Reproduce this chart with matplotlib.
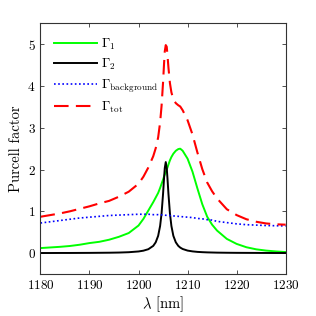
import matplotlib
matplotlib.use("Agg")
import matplotlib.pyplot as plt

plt.rcParams["font.family"] = "serif"
plt.rcParams["font.serif"] = ["cmr10", "DejaVu Serif"]
plt.rcParams["mathtext.fontset"] = "cm"
plt.rcParams["axes.formatter.use_mathtext"] = True

# wavelength grid [nm] (denser near the resonances)
wl = [1180, 1182, 1184, 1186, 1188, 1190, 1192, 1194, 1196, 1198,
      1200, 1201, 1202, 1203, 1203.5, 1204, 1204.4, 1204.7, 1205, 1205.2,
      1205.35, 1205.55, 1205.75, 1205.9, 1206.1, 1206.4, 1206.7, 1207.1, 1207.6, 1208.1,
      1208.5, 1209, 1210, 1211, 1212, 1213, 1214, 1215, 1216, 1218,
      1220, 1222, 1224, 1226, 1228, 1230]

gamma_1 = [0.12, 0.135, 0.15, 0.17, 0.20, 0.24, 0.27, 0.32, 0.39, 0.48,
           0.66, 0.82, 1.02, 1.22, 1.33, 1.44, 1.56, 1.66, 1.76, 1.83,
           1.88, 1.94, 2.00, 2.05, 2.12, 2.22, 2.30, 2.38, 2.45, 2.49,
           2.50, 2.45, 2.26, 1.95, 1.55, 1.17, 0.87, 0.68, 0.54, 0.34,
           0.22, 0.14, 0.09, 0.06, 0.04, 0.025]

gamma_2 = [0.002, 0.002, 0.003, 0.003, 0.004, 0.005, 0.007, 0.009, 0.013, 0.021,
           0.039, 0.058, 0.093, 0.173, 0.258, 0.413, 0.650, 0.954, 1.418, 1.790,
           2.035, 2.18, 2.035, 1.790, 1.418, 0.954, 0.650, 0.413, 0.258, 0.173,
           0.132, 0.098, 0.060, 0.041, 0.029, 0.022, 0.017, 0.014, 0.011, 0.008,
           0.006, 0.005, 0.004, 0.003, 0.002, 0.002]

gamma_bg = [0.72, 0.75, 0.78, 0.81, 0.84, 0.86, 0.88, 0.90, 0.91, 0.92,
            0.93, 0.93, 0.93, 0.92, 0.92, 0.92, 0.915, 0.915, 0.91, 0.91,
            0.91, 0.905, 0.905, 0.90, 0.90, 0.90, 0.895, 0.89, 0.885, 0.88,
            0.875, 0.87, 0.86, 0.85, 0.83, 0.82, 0.80, 0.79, 0.76, 0.73,
            0.70, 0.68, 0.67, 0.66, 0.655, 0.65]

gamma_tot = [0.87, 0.91, 0.95, 1.00, 1.06, 1.12, 1.19, 1.25, 1.35, 1.47,
             1.66, 1.83, 2.05, 2.32, 2.51, 2.77, 3.13, 3.53, 4.09, 4.53,
             4.83, 4.98, 4.94, 4.74, 4.44, 4.07, 3.85, 3.68, 3.59, 3.54,
             3.51, 3.42, 3.18, 2.84, 2.41, 2.01, 1.69, 1.48, 1.31, 1.05,
             0.91, 0.81, 0.75, 0.71, 0.69, 0.68]

fig = plt.figure(figsize=(3.16, 3.16), dpi=100)
ax = fig.add_axes([0.128, 0.133, 0.776, 0.793])

ax.plot(wl, gamma_1, color="#00ff00", lw=1.4, label=r"$\Gamma_1$")
ax.plot(wl, gamma_2, color="black", lw=1.4, label=r"$\Gamma_2$")
ax.plot(wl, gamma_bg, color="#0000ff", lw=1.2, ls=(0, (1, 1.5)),
        label=r"$\Gamma_{\rm background}$")
ax.plot(wl, gamma_tot, color="#ff0000", lw=1.5, ls=(0, (7, 3.5)),
        label=r"$\Gamma_{\rm tot}$")

ax.set_xlim(1180, 1230)
ax.set_ylim(-0.5, 5.5)
ax.set_xticks([1180, 1190, 1200, 1210, 1220, 1230])
ax.set_yticks([0, 1, 2, 3, 4, 5])
ax.tick_params(direction="in", top=True, right=True, labelsize=9.5,
               length=3, width=0.6, color="#333333")
for sp in ax.spines.values():
    sp.set_color("#333333")
    sp.set_linewidth(0.8)

ax.set_xlabel(r"$\lambda$ [nm]", fontsize=10.5, labelpad=2)
ax.set_ylabel("Purcell factor", fontsize=10.5, labelpad=3)

ax.legend(loc="upper left", frameon=False, fontsize=9.5, handlelength=3.3,
          handletextpad=0.3, labelspacing=0.4, borderaxespad=0.6)

fig.savefig("out.png", dpi=100)
